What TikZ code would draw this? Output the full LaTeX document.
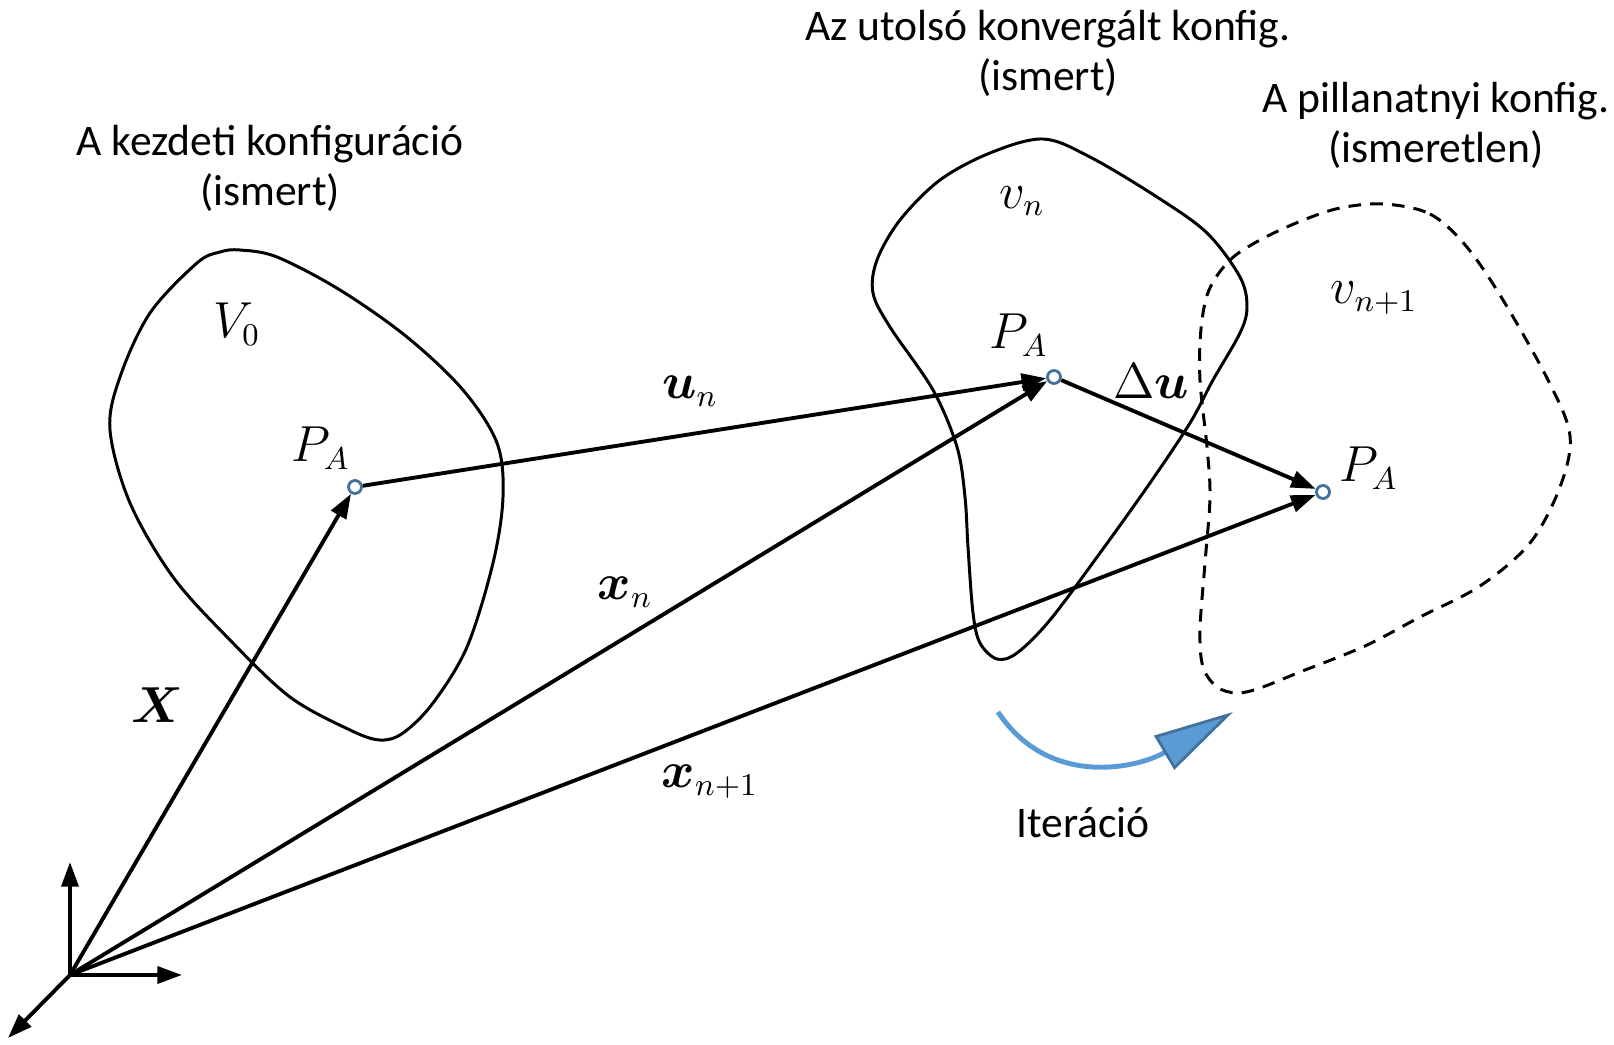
\documentclass[tikz,border=0pt]{standalone}
\usepackage{amsmath,amssymb,bm}
\usepackage{fontspec}
\setmainfont{Carlito}
\usepackage{tikz}
\usetikzlibrary{arrows.meta,positioning,calc}
\definecolor{iterblue}{RGB}{91,155,213}
\definecolor{iteredge}{RGB}{65,113,156}
\definecolor{pointblue}{RGB}{65,113,156}

\begin{document}
\begin{tikzpicture}[x=0.01cm, y=-0.01cm,
    body/.style={line width=0.85pt},
    newbody/.style={line width=0.85pt, dash pattern=on 3.6pt off 2.6pt},
    vec/.style={line width=1.1pt, -{Triangle[length=7pt,width=4.8pt]}},
    pt/.style={circle, draw=pointblue, fill=white, line width=0.8pt, inner sep=0pt, minimum size=0.13cm},
    txt/.style={align=center, font=\fontsize{12.4}{14.2}\selectfont},
    lbl/.style={font=\fontsize{13.3}{16}\selectfont}]
  \useasboundingbox (0,0) rectangle (1614,1045);

  % bodies
  \draw[body] plot[smooth cycle, tension=0.55] coordinates {(240,250) (277,257) (340,290) (407,337)
    (463,390) (497,443) (503,497) (493,563) (467,647) (433,703) (403,733) (380,740) (350,730)
    (290,697) (230,640) (173,577) (130,503) (110,430) (120,377) (150,313) (197,263) (220,252)};
  \draw[body] plot[smooth cycle, tension=0.55] coordinates {(1043,139) (1090,157) (1157,197)
    (1207,233) (1240,277) (1247,307) (1240,333) (1213,380) (1190,423) (1150,483) (1100,553)
    (1050,620) (1017,653) (997,659) (980,643) (973,613) (968,547) (965,497) (957,447) (933,390)
    (890,327) (873,293) (877,260) (900,220) (940,180) (990,153)};
  \draw[newbody] plot[smooth cycle, tension=0.55] coordinates {(1384,204) (1430,214) (1466,246)
    (1503,300) (1549,382) (1570,436) (1560,487) (1530,543) (1480,586) (1420,617) (1365,646)
    (1300,672) (1260,688) (1237,693) (1217,687) (1203,667) (1200,630) (1205,563) (1210,497)
    (1207,447) (1200,380) (1201,329) (1209,290) (1230,260) (1260,240) (1301,221) (1340,208)};

  % points
  \coordinate (o) at (70,975);
  \coordinate (ex) at (182,975);
  \coordinate (ey) at (70,862);
  \coordinate (ez) at (8,1038);
  \node[pt] (pa1) at (355,487) {};
  \node[pt] (pa2) at (1054,377) {};
  \node[pt] (pa3) at (1323,492) {};

  % axes and vectors
  \draw[vec] (o) -- (ex);
  \draw[vec] (o) -- (ey);
  \draw[vec] (o) -- (ez);
  \draw[vec] (o) -- (pa1);
  \draw[vec] (o) -- (pa2);
  \draw[vec] (o) -- (pa3);
  \draw[vec] (pa1) -- (pa2);
  \draw[vec] (pa2) -- (pa3);

  % iteration
  \draw[iterblue, line width=1.4pt, -{Triangle[length=0.8cm,width=0.39cm,fill=iterblue,color=iteredge,line width=0.8pt]}]
    (998,712) .. controls (1050,790) and (1140,767) .. (1233,712);
  \node[txt] (iter) at (1083,823) {Iteráció};

  % labels
  \node[txt] (t0) at (270,168) {A kezdeti konfiguráció\\(ismert)};
  \node[txt] (tn) at (1048,53) {Az utolsó konvergált konfig.\\(ismert)};
  \node[txt] (tn1) at (1436,125) {A pillanatnyi konfig.\\(ismeretlen)};
  \node[lbl] (V0) at (237,324) {$V_0$};
  \node[lbl] (vn) at (1022,201) {$v_n$};
  \node[lbl] (vn1) at (1374,298) {$v_{n+1}$};
  \node[lbl] (l1) at (321,448) {$P_A$};
  \node[lbl] (l2) at (1019,335) {$P_A$};
  \node[lbl] (l3) at (1369,468) {$P_A$};
  \node[lbl] (lX) at (157,705) {$\bm{X}$};
  \node[lbl] (lun) at (690,391) {$\bm{u}_n$};
  \node[lbl] (lxn) at (625,592) {$\bm{x}_n$};
  \node[lbl] (lxn1) at (710,782) {$\bm{x}_{n+1}$};
  \node[lbl] (ldu) at (1151,381) {$\Delta\bm{u}$};
\end{tikzpicture}
\end{document}
